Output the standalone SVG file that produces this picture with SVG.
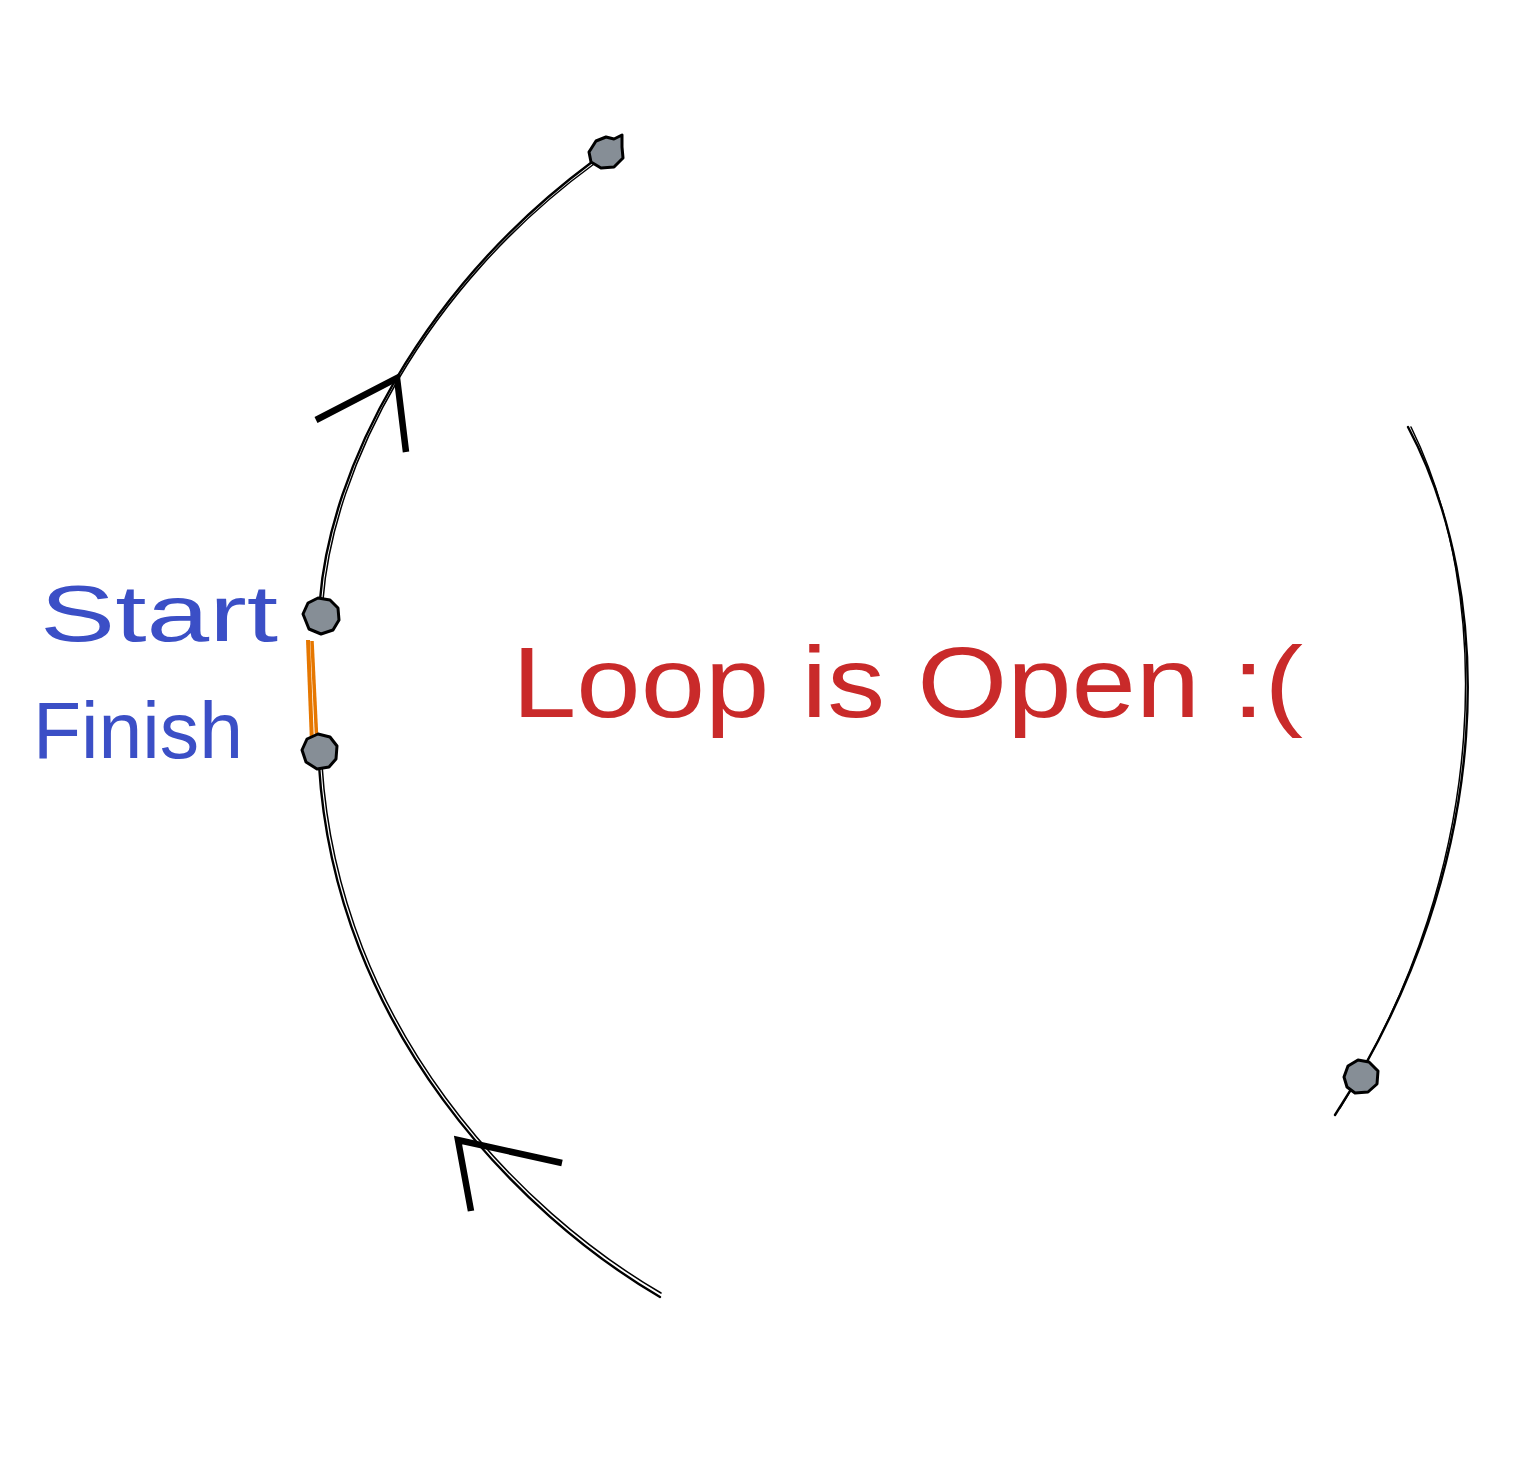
<svg xmlns="http://www.w3.org/2000/svg" width="1527" height="1467" viewBox="0 0 1527 1467">
<style>
.arc{fill:none;stroke:#000;stroke-width:2.4;stroke-linecap:round}
.arc2{fill:none;stroke:#000;stroke-width:1.5;stroke-linecap:round}
.head{fill:none;stroke:#000;stroke-width:6.5;stroke-linecap:butt;stroke-linejoin:miter}
.dot{fill:#868e96;stroke:#000;stroke-width:3;stroke-linejoin:round}
.blue{font-family:"Liberation Sans",sans-serif;font-size:80px;fill:#3b4fc6}
.red{font-family:"Liberation Sans",sans-serif;font-size:100px;fill:#c92a2a}
</style>
<rect width="1527" height="1467" fill="#fff"/>
<g id="connectors">
  <path class="arc" d="M320,600 C330,470 420,290 592,162"/>
  <path class="arc2" d="M323,600 C333,468 424,288 594,164"/>
  <polyline class="head" points="316,420 397,378 406,452"/>
  <path class="arc" d="M660,1297 C520,1215 335,1030 319,765"/>
  <path class="arc2" d="M661,1293 C522,1212 339,1030 322,765"/>
  <polyline class="head" points="562,1163 458,1140 471,1211"/>
  <path class="arc" d="M1408,427 C1495,590 1500,860 1335,1115"/>
  <path class="arc2" d="M1411,427 C1492,592 1494,862 1340,1108"/>
  <line x1="308" y1="640" x2="312" y2="743" stroke="#e67700" stroke-width="4"/>
  <line x1="312" y1="641" x2="317" y2="745" stroke="#e67700" stroke-width="3.5"/>
</g>
<g id="node-top"><path class="dot" d="M589,152 L596,141 L606,137 L614,139 L622,135 L622,147 L623,158 L614,167 L601,168 L591,162 Z"/></g>
<g id="node-start"><path class="dot" d="M303,614 L308,603 L318,598 L330,600 L338,608 L339,620 L333,630 L321,634 L309,629 Z"/></g>
<g id="node-finish"><path class="dot" d="M302,750 L307,739 L318,734 L330,737 L337,746 L336,759 L329,767 L317,769 L306,762 Z"/></g>
<g id="node-right"><path class="dot" d="M1344,1077 L1348,1066 L1358,1060 L1369,1062 L1378,1071 L1377,1084 L1368,1092 L1355,1093 L1347,1087 Z"/></g>
<g id="labels">
  <text class="blue" x="40" y="641" textLength="238" lengthAdjust="spacingAndGlyphs">Start</text>
  <text class="blue" x="33" y="758" textLength="210" lengthAdjust="spacingAndGlyphs">Finish</text>
  <text class="red" x="512" y="717" textLength="791" lengthAdjust="spacingAndGlyphs">Loop is Open :(</text>
</g>
</svg>
